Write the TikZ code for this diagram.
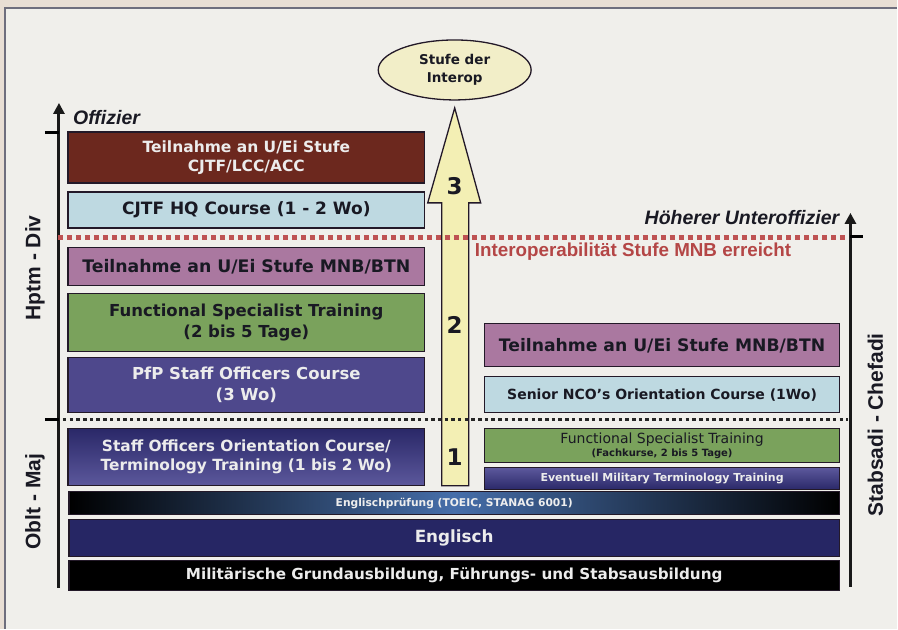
\documentclass[tikz,border=0pt]{standalone}
\usepackage{fontspec}
\setmainfont{DejaVu Sans}
\newfontfamily\arial{Liberation Sans}
\usetikzlibrary{arrows.meta,shapes.geometric}

\definecolor{paper}{RGB}{240,239,235}
\definecolor{strip}{RGB}{232,222,212}
\definecolor{framec}{RGB}{110,110,125}
\definecolor{boxline}{RGB}{35,25,40}
\definecolor{brownc}{RGB}{108,40,30}
\definecolor{lblue}{RGB}{190,217,225}
\definecolor{pinkc}{RGB}{170,120,160}
\definecolor{greenc}{RGB}{122,162,92}
\definecolor{pfpc}{RGB}{78,72,140}
\definecolor{navyc}{RGB}{38,38,100}
\definecolor{navyhi}{RGB}{92,88,156}
\definecolor{navylo}{RGB}{42,40,104}
\definecolor{testmid}{RGB}{70,110,170}
\definecolor{lighttxt}{RGB}{236,236,236}
\definecolor{darktxt}{RGB}{25,25,35}
\definecolor{redline}{RGB}{190,82,82}
\definecolor{redtxt}{RGB}{180,70,70}
\definecolor{arrowc}{RGB}{243,239,180}
\definecolor{ellc}{RGB}{242,238,200}

\newcommand\fsz[2]{\fontsize{#1}{#2}\selectfont}

\tikzset{
  box/.style={draw=boxline,line width=1.3pt,inner sep=0pt,outer sep=0pt,
    align=center,font=\bfseries},
  lbox/.style={box,minimum width=357pt},
  rbox/.style={box,minimum width=355pt},
  wbox/.style={box,minimum width=771pt},
  axis/.style={line width=3pt,draw=black!90,-{Triangle[width=11pt,length=11pt]}},
  level/.style={font=\arial\bfseries\fsz{21}{24},rotate=90,text=darktxt},
  rank/.style={font=\arial\bfseries\itshape\fsz{19.5}{22},text=darktxt,inner sep=0pt},
  num/.style={font=\bfseries\fsz{23}{26},text=darktxt}
}

\begin{document}
\begin{tikzpicture}[x=1pt,y=-1pt]
  \fill[strip] (0,0) rectangle (898,629);
  \fill[paper] (5,8) rectangle (898,629);
  \draw[framec,line width=1.2pt] (5,629) |- (898,8);
  \useasboundingbox (0,0) rectangle (898,629);

  % Stufenpfeil
  \path coordinate (tip) at (455,108);
  \filldraw[fill=arrowc,draw=boxline,line width=1.3pt]
    (442,486) -- (442,203) -- (428,203) -- (tip) -- (481,203) -- (469,203) -- (469,486) -- cycle;
  \node[ellipse,draw=boxline,line width=1.3pt,fill=ellc,minimum width=153pt,minimum height=60pt,
    inner sep=0pt,align=center,font=\bfseries\fsz{13.5}{18},text=darktxt] (interop) at (455,70) {Stufe der\\Interop};
  \node[num] (n3) at (455,186) {3};
  \node[num] (n2) at (455,325) {2};
  \node[num] (n1) at (455,457) {1};

  % Offiziere
  \node[lbox,fill=brownc,minimum height=51pt,text=lighttxt,font=\bfseries\fsz{15.5}{19}] (uei) at (246.5,157.5) {Teilnahme an U/Ei Stufe\\CJTF/LCC/ACC};
  \node[lbox,fill=lblue,minimum height=36pt,text=darktxt,font=\bfseries\fsz{17}{20}] (hq) at (246.5,210) {CJTF HQ Course (1 - 2 Wo)};
  \node[lbox,fill=pinkc,minimum height=38pt,text=darktxt,font=\bfseries\fsz{17.3}{20}] (mnb) at (246.5,267) {Teilnahme an U/Ei Stufe MNB/BTN};
  \node[lbox,fill=greenc,minimum height=58pt,text=darktxt,font=\bfseries\fsz{16.5}{21}] (fst) at (246.5,323) {Functional Specialist Training\\(2 bis 5 Tage)};
  \node[lbox,fill=pfpc,minimum height=55pt,text=lighttxt,font=\bfseries\fsz{16.5}{21}] (pfp) at (246.5,385.5) {PfP Staff Officers Course\\(3 Wo)};
  \node[lbox,top color=navylo,bottom color=navyhi,minimum height=57pt,text=lighttxt,font=\bfseries\fsz{15.4}{19}] (soc) at (246.5,457.5) {Staff Officers Orientation Course/\\Terminology Training (1 bis 2 Wo)};

  % Unteroffiziere
  \node[rbox,fill=pinkc,minimum height=43pt,text=darktxt,font=\bfseries\fsz{17.2}{20}] (nmnb) at (662.5,345.5) {Teilnahme an U/Ei Stufe MNB/BTN};
  \node[rbox,fill=lblue,minimum height=36pt,text=darktxt,font=\bfseries\fsz{14}{17}] (nco) at (662.5,395) {Senior NCO's Orientation Course (1Wo)};
  \node[rbox,fill=greenc,minimum height=34pt,text=darktxt,font=\fsz{14}{13}] (nfst) at (662.5,446) {Functional Specialist Training\\{\bfseries\fsz{10}{12}(Fachkurse, 2 bis 5 Tage)}};
  \node[rbox,top color=navyhi,bottom color=navylo,minimum height=22pt,text=lighttxt,font=\bfseries\fsz{11}{13}] (nterm) at (662.5,479) {Eventuell Military Terminology Training};

  % gemeinsame Basis
  \node[wbox,left color=black,right color=black,middle color=testmid,minimum height=23pt,text=lighttxt!90,font=\bfseries\fsz{10.7}{12}] (test) at (454.5,503.5) {Englischprüfung (TOEIC, STANAG 6001)};
  \node[wbox,fill=navyc,minimum height=37pt,text=lighttxt,font=\bfseries\fsz{16.8}{20}] (engl) at (454.5,538.5) {Englisch};
  \node[wbox,fill=black,minimum height=30pt,text=lighttxt,font=\bfseries\fsz{15.2}{18}] (mil) at (454.5,576) {Militärische Grundausbildung, Führungs- und Stabsausbildung};

  % Achsen
  \path coordinate (lbot) at (59,588) coordinate (ltop) at (59,103)
        coordinate (rbot) at (851,587) coordinate (rtop) at (851,213);
  \draw[axis] (lbot) -- (ltop);
  \draw[axis] (rbot) -- (rtop);
  \draw[line width=3pt] (45,133) -- (59,133);
  \draw[line width=3pt] (45,420) -- (59,420);
  \draw[line width=3pt] (851,237) -- (864,237);

  % Trennlinien
  \draw[redline,line width=5pt,dash pattern=on 5pt off 4pt] (58,238) -- (849,238);
  \draw[black!85,line width=3.5pt,dash pattern=on 3.5pt off 3.2pt] (63,420) -- (849,420);

  \node[rank,anchor=west] (offz) at (73,118) {Offizier};
  \node[rank,anchor=east] (uffz) at (840,218) {Höherer Unteroffizier};
  \node[anchor=west,inner sep=0pt,text=redtxt,font=\arial\bfseries\fsz{18.8}{22}] (stufe) at (475,252) {Interoperabilität Stufe MNB erreicht};

  \node[level] (hptm) at (35,268) {Hptm - Div};
  \node[level] (oblt) at (35,502) {Oblt - Maj};
  \node[level] (stab) at (876,425) {Stabsadi - Chefadi};
\end{tikzpicture}
\end{document}
